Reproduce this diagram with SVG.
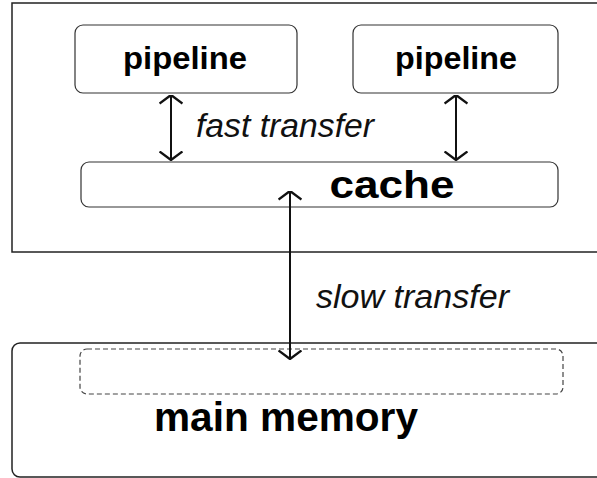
<svg xmlns="http://www.w3.org/2000/svg" width="597" height="478" viewBox="0 0 597 478">
<defs>
<style>
.frame{fill:none;stroke:#222;stroke-width:1.5}
.box{fill:#fff;stroke:#333;stroke-width:1.2}
.dash{fill:none;stroke:#444;stroke-width:1.2;stroke-dasharray:5 3}
.bold{font-family:"Liberation Sans",Arial,sans-serif;font-weight:bold;fill:#000;text-anchor:middle}
.ital{font-family:"Liberation Sans",Arial,sans-serif;font-style:italic;fill:#111}
.conn{stroke:#111;stroke-width:2;fill:none}
</style>
<marker id="ah" viewBox="0 0 10 24" refX="9.5" refY="12" markerWidth="10" markerHeight="24" markerUnits="userSpaceOnUse" orient="auto-start-reverse">
<path d="M1,0.5 L9.5,12 L1,23.5" fill="none" stroke="#111" stroke-width="2.4"/>
</marker>
</defs>
<g id="cpu">
<rect class="frame" x="12" y="3" width="600" height="249"/>
</g>
<g id="memory">
<rect class="frame" x="12" y="343" width="600" height="134" rx="8"/>
<rect class="dash" x="80" y="349" width="483" height="45" rx="7"/>
<text class="bold" x="286" y="431" font-size="40" textLength="264" lengthAdjust="spacingAndGlyphs">main memory</text>
</g>
<g id="pipeline1">
<rect class="box" x="75" y="25" width="222" height="68" rx="8"/>
<text class="bold" x="185" y="69" font-size="32" textLength="124" lengthAdjust="spacingAndGlyphs">pipeline</text>
</g>
<g id="pipeline2">
<rect class="box" x="353" y="25" width="205" height="68" rx="8"/>
<text class="bold" x="456" y="69" font-size="32" textLength="122" lengthAdjust="spacingAndGlyphs">pipeline</text>
</g>
<g id="cache">
<rect class="box" x="81" y="162" width="477" height="45" rx="8"/>
<text class="bold" x="392" y="198" font-size="39" textLength="125" lengthAdjust="spacingAndGlyphs">cache</text>
</g>
<g id="connectors">
<line class="conn" x1="171" y1="95" x2="171" y2="160" marker-start="url(#ah)" marker-end="url(#ah)"/>
<line class="conn" x1="456" y1="95" x2="456" y2="160" marker-start="url(#ah)" marker-end="url(#ah)"/>
<line class="conn" x1="290" y1="191" x2="290" y2="359" marker-start="url(#ah)" marker-end="url(#ah)"/>
<text class="ital" x="196" y="137" font-size="33" textLength="178" lengthAdjust="spacingAndGlyphs">fast transfer</text>
<text class="ital" x="316" y="308" font-size="33" textLength="193" lengthAdjust="spacingAndGlyphs">slow transfer</text>
</g>
</svg>
